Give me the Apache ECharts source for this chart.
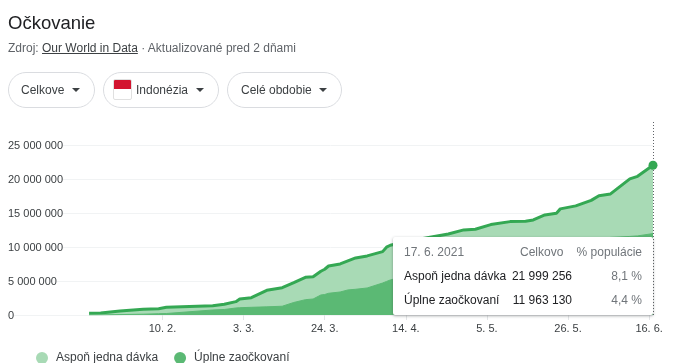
<!DOCTYPE html>
<html>
<head>
<meta charset="utf-8">
<title>Očkovanie</title>
<script src="https://cdn.jsdelivr.net/npm/echarts@6/dist/echarts.min.js"></script>
<style>
  html, body { margin: 0; padding: 0; background: #fff; overflow: hidden; }
  body { width: 673px; height: 363px; position: relative; font-family: 'Liberation Sans', sans-serif; color: #3c4043; }
  #chart { position: absolute; left: 0; top: 0; width: 673px; height: 363px; }
  .abs { position: absolute; white-space: nowrap; }
  .title { left: 8px; top: 10px; font-size: 18.5px; line-height: 26px; color: #202124; }
  .source { left: 8px; top: 40px; font-size: 12px; line-height: 16px; color: #5f6368; }
  .source u { color: #3c4043; }
  .chip { top: 72px; height: 34px; border: 1px solid #dadce0; border-radius: 18px; box-sizing: content-box; font-size: 12px; line-height: 34px; }
  .chip span { position: absolute; top: 0; }
  .chip i { position: absolute; top: 15px; width: 0; height: 0; border-left: 4px solid transparent; border-right: 4px solid transparent; border-top: 4px solid #3c4043; }
  .flag { position: absolute; left: 9px; top: 6px; width: 17px; height: 19px; border: 1px solid #e0e0e0; border-radius: 2px; background: linear-gradient(#d3142f 50%, #fff 50%); }
  #tip { position: absolute; left: 393px; top: 237px; width: 260px; height: 78px; background: #fff; border-radius: 2px; box-shadow: 0 1px 3px rgba(60,64,67,.45); font-size: 12px; }
  #tip div { position: absolute; white-space: nowrap; line-height: 16px; }
</style>
</head>
<body>
<div id="chart"></div>
<div class="abs title">Očkovanie</div>
<div class="abs source">Zdroj: <u>Our World in Data</u> · Aktualizované pred 2 dňami</div>
<div class="abs chip" style="left:8px;width:85px"><span style="left:12px">Celkove</span><i style="left:63px"></i></div>
<div class="abs chip" style="left:103px;width:114px"><div class="flag"></div><span style="left:32px">Indonézia</span><i style="left:92px"></i></div>
<div class="abs chip" style="left:227px;width:113px"><span style="left:13px">Celé obdobie</span><i style="left:91px"></i></div>
<div id="tip"></div>
<script>
const dates = [
  '2021-01-22', '2021-01-25', '2021-01-30', '2021-02-05', '2021-02-09', '2021-02-11', '2021-02-23', '2021-02-26',
  '2021-03-01', '2021-03-02', '2021-03-05', '2021-03-09', '2021-03-13', '2021-03-16', '2021-03-19', '2021-03-21',
  '2021-03-23', '2021-03-24', '2021-03-25', '2021-03-28', '2021-03-30', '2021-04-01', '2021-04-04', '2021-04-08',
  '2021-04-09', '2021-04-10', '2021-04-13', '2021-04-17', '2021-04-21', '2021-04-25', '2021-04-29', '2021-05-02',
  '2021-05-06', '2021-05-11', '2021-05-15', '2021-05-17', '2021-05-20', '2021-05-23', '2021-05-24', '2021-05-28',
  '2021-06-01', '2021-06-03', '2021-06-06', '2021-06-11', '2021-06-13', '2021-06-17'
];
const oneDose = [
  250000, 294000, 588000, 838000, 926000, 1132000, 1350000, 1570000,
  1960000, 2350000, 2540000, 3630000, 4010000, 4750000, 5540000, 5630000,
  6430000, 6720000, 7200000, 7500000, 7940000, 8380000, 8680000, 9310000,
  9960000, 10250000, 10660000, 11100000, 11510000, 11910000, 12500000, 12600000,
  13280000, 13720000, 13780000, 13970000, 14700000, 14960000, 15590000, 16030000,
  16840000, 17530000, 17790000, 20000000, 20370000, 21999256
];
const fullyVaccinated = [
  0, 10000, 60000, 120000, 190000, 220000, 735000, 810000,
  1030000, 1070000, 1130000, 1200000, 1290000, 1840000, 2250000, 2350000,
  2940000, 3010000, 3190000, 3380000, 3680000, 3780000, 3970000, 4700000,
  4930000, 5150000, 5590000, 6100000, 6600000, 7200000, 7800000, 8200000,
  8700000, 9100000, 9550000, 9700000, 10000000, 10300000, 10370000, 10700000,
  11000000, 11180000, 11400000, 11540000, 11620000, 11963130
];
const xTicks = ['2021-02-10', '2021-03-03', '2021-03-24', '2021-04-14', '2021-05-05', '2021-05-26', '2021-06-16'];
const tipRows = [
  ['Aspoň jedna dávka', '21 999 256', '8,1 %'],
  ['Úplne zaočkovaní', '11 963 130', '4,4 %']
];

const ts = (s) => echarts.time.parse(s).getTime();
const lastDate = ts(dates[dates.length - 1]);
const lastValue = oneDose[oneDose.length - 1];
const tickValues = xTicks.map(ts);

// tooltip box, fixed on the last day like in the screenshot
let tipHtml = '<div style="left:11px;top:7px;color:#70757a">17. 6. 2021</div>'
  + '<div style="left:127px;top:7px;color:#70757a">Celkovo</div>'
  + '<div style="right:11px;top:7px;color:#70757a">% populácie</div>';
tipRows.forEach((row, i) => {
  const top = 31 + i * 24;
  tipHtml += `<div style="left:11px;top:${top}px;color:#202124">${row[0]}</div>`
    + `<div style="right:81px;top:${top}px;color:#202124">${row[1]}</div>`
    + `<div style="right:11px;top:${top}px;color:#70757a">${row[2]}</div>`;
});
document.getElementById('tip').innerHTML = tipHtml;

const myChart = echarts.init(document.getElementById('chart'));
myChart.setOption({
  animation: false,
  legend: {
    left: 36,
    top: 352,
    padding: 0,
    icon: 'circle',
    itemWidth: 12,
    itemHeight: 12,
    itemGap: 16,
    textStyle: { fontFamily: 'Liberation Sans', fontSize: 12, color: '#3c4043', padding: [0, 0, 0, 3] },
    data: [
      { name: 'Aspoň jedna dávka', itemStyle: { color: '#a8dab5', borderWidth: 0 } },
      { name: 'Úplne zaočkovaní', itemStyle: { color: '#5bb974', borderWidth: 0 } }
    ]
  },
  grid: { left: 8, right: 20, top: 121, bottom: 48, containLabel: false },
  xAxis: {
    type: 'value',
    min: ts('2021-01-01'),
    max: lastDate,
    axisLine: { lineStyle: { color: '#f1f3f4', width: 1 } },
    axisTick: { length: 5, lineStyle: { color: '#e3e5e7' }, customValues: tickValues },
    splitLine: { show: false },
    axisLabel: {
      customValues: tickValues,
      margin: 8,
      fontFamily: 'Liberation Sans',
      fontSize: 11,
      color: '#3c4043',
      formatter: (v) => {
        const d = new Date(v);
        return `${d.getDate()}. ${d.getMonth() + 1}.`;
      }
    }
  },
  yAxis: {
    type: 'value',
    min: 0,
    max: 28500000,
    interval: 5000000,
    axisLine: { show: false },
    axisTick: { show: false },
    splitLine: { showMaxLine: false, lineStyle: { color: '#f1f3f4', width: 1 } },
    axisLabel: {
      inside: true,
      margin: 0,
      showMaxLabel: false,
      fontFamily: 'Liberation Sans',
      fontSize: 11,
      color: '#3c4043',
      backgroundColor: '#fff',
      verticalAlign: 'top',
      lineHeight: 2,
      formatter: (v) => String(v).replace(/\B(?=(\d{3})+$)/g, ' ')
    }
  },
  series: [
    {
      name: 'Aspoň jedna dávka',
      type: 'line',
      showSymbol: false,
      data: dates.map((d, i) => [ts(d), oneDose[i]]),
      itemStyle: { color: '#a8dab5' },
      lineStyle: { color: '#34a853', width: 3 },
      areaStyle: { color: '#a8dab5', opacity: 1 },
      markLine: {
        silent: true,
        symbol: 'none',
        label: { show: false },
        lineStyle: { type: [1, 2], color: '#5f6368', width: 1 },
        data: [{ xAxis: lastDate }]
      },
      markPoint: {
        silent: true,
        symbol: 'circle',
        symbolSize: 9,
        label: { show: false },
        itemStyle: { color: '#34a853' },
        data: [{ coord: [lastDate, lastValue] }]
      }
    },
    {
      name: 'Úplne zaočkovaní',
      type: 'line',
      showSymbol: false,
      data: dates.map((d, i) => [ts(d), fullyVaccinated[i]]),
      itemStyle: { color: '#5bb974' },
      lineStyle: { color: '#5bb974', width: 1 },
      areaStyle: { color: '#5bb974', opacity: 1 }
    }
  ]
});
</script>
</body>
</html>
